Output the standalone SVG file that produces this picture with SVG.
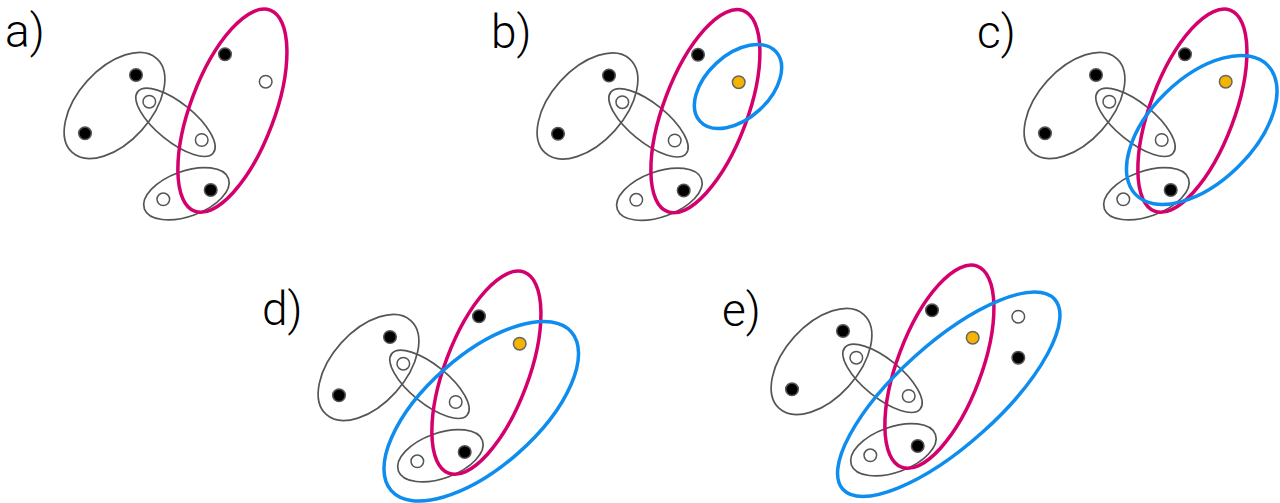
<svg xmlns="http://www.w3.org/2000/svg" width="1280" height="503" viewBox="0 0 1280 503">
<style>
.g{fill:none;stroke:#555;stroke-width:1.7}
.m{fill:none;stroke:#D4006E;stroke-width:3.5}
.bl{fill:none;stroke:#0E8DEF;stroke-width:3.5}
.k{fill:#000;stroke:#555;stroke-width:1.5}
.w{fill:#fff;stroke:#555;stroke-width:1.5}
.y{fill:#F5B400;stroke:#666;stroke-width:1.5}
.lab{font-family:Roboto,"Liberation Sans",sans-serif;font-weight:300;font-size:46px;fill:#000}
</style>
<rect width="1280" height="503" fill="#fff"/>

<!-- panel a -->
<g id="panel-a">
<text class="lab" x="5" y="47">a)</text>
<g id="a-set1"><ellipse class="g" transform="translate(114.5,105.5) rotate(-48)" rx="63.2" ry="36.7"/></g>
<g id="a-set2"><ellipse class="g" transform="translate(175.5,122.3) rotate(39.1)" rx="48.6" ry="19.2"/></g>
<g id="a-set3"><ellipse class="g" transform="translate(186.4,193.7) rotate(-19.9)" rx="44.7" ry="22.6"/></g>
<g id="a-magenta"><ellipse class="m" transform="translate(232.4,110.7) rotate(20.6)" rx="42" ry="107.4"/></g>
<g id="a-dots">
<circle class="k" cx="136" cy="75" r="6.3"/><circle class="w" cx="149.3" cy="101.7" r="6.3"/>
<circle class="k" cx="85" cy="133.3" r="6.3"/><circle class="w" cx="201.7" cy="140" r="6.3"/>
<circle class="k" cx="210.7" cy="190" r="6.3"/><circle class="w" cx="163.3" cy="199.3" r="6.3"/>
<circle class="k" cx="225" cy="54.3" r="6.3"/><circle class="w" cx="265.7" cy="81.7" r="6.3"/>
</g>
</g>

<!-- panel b -->
<text class="lab" x="491" y="48">b)</text>
<g id="panel-b" transform="translate(473,0.5)">
<g id="b-set1"><ellipse class="g" transform="translate(114.5,105.5) rotate(-48)" rx="63.2" ry="36.7"/></g>
<g id="b-set2"><ellipse class="g" transform="translate(175.5,122.3) rotate(39.1)" rx="48.6" ry="19.2"/></g>
<g id="b-set3"><ellipse class="g" transform="translate(186.4,193.7) rotate(-19.9)" rx="44.7" ry="22.6"/></g>
<g id="b-magenta"><ellipse class="m" transform="translate(232.4,110.7) rotate(20.6)" rx="42" ry="107.4"/></g>
<g id="b-blue"><ellipse class="bl" transform="translate(265,86) rotate(-42.6)" rx="51.5" ry="31.8"/></g>
<g id="b-dots">
<circle class="k" cx="136" cy="75" r="6.3"/><circle class="w" cx="149.3" cy="101.7" r="6.3"/>
<circle class="k" cx="85" cy="133.3" r="6.3"/><circle class="w" cx="201.7" cy="140" r="6.3"/>
<circle class="k" cx="210.7" cy="190" r="6.3"/><circle class="w" cx="163.3" cy="199.3" r="6.3"/>
<circle class="k" cx="225" cy="54.3" r="6.3"/><circle class="y" cx="265.7" cy="81.7" r="6.3"/>
</g>
</g>

<!-- panel c -->
<text class="lab" x="977" y="48">c)</text>
<g id="panel-c" transform="translate(960,0)">
<g id="c-set1"><ellipse class="g" transform="translate(114.5,105.5) rotate(-48)" rx="63.2" ry="36.7"/></g>
<g id="c-set2"><ellipse class="g" transform="translate(175.5,122.3) rotate(39.1)" rx="48.6" ry="19.2"/></g>
<g id="c-set3"><ellipse class="g" transform="translate(186.4,193.7) rotate(-19.9)" rx="44.7" ry="22.6"/></g>
<g id="c-magenta"><ellipse class="m" transform="translate(232.4,110.7) rotate(20.6)" rx="42" ry="107.4"/></g>
<g id="c-blue"><ellipse class="bl" transform="translate(241.75,130) rotate(-44.4)" rx="92.4" ry="51.7"/></g>
<g id="c-dots">
<circle class="k" cx="136" cy="75" r="6.3"/><circle class="w" cx="149.3" cy="101.7" r="6.3"/>
<circle class="k" cx="85" cy="133.3" r="6.3"/><circle class="w" cx="201.7" cy="140" r="6.3"/>
<circle class="k" cx="210.7" cy="190" r="6.3"/><circle class="w" cx="163.3" cy="199.3" r="6.3"/>
<circle class="k" cx="225" cy="54.3" r="6.3"/><circle class="y" cx="265.7" cy="81.7" r="6.3"/>
</g>
</g>

<!-- panel d -->
<text class="lab" x="262" y="325">d)</text>
<g id="panel-d" transform="translate(254,262)">
<g id="d-set1"><ellipse class="g" transform="translate(114.5,105.5) rotate(-48)" rx="63.2" ry="36.7"/></g>
<g id="d-set2"><ellipse class="g" transform="translate(175.5,122.3) rotate(39.1)" rx="48.6" ry="19.2"/></g>
<g id="d-set3"><ellipse class="g" transform="translate(186.4,193.7) rotate(-19.9)" rx="44.7" ry="22.6"/></g>
<g id="d-magenta"><ellipse class="m" transform="translate(232.4,110.7) rotate(20.6)" rx="42" ry="107.4"/></g>
<g id="d-blue"><ellipse class="bl" transform="translate(227.25,149.25) rotate(-41.4)" rx="120" ry="55.8"/></g>
<g id="d-dots">
<circle class="k" cx="136" cy="75" r="6.3"/><circle class="w" cx="149.3" cy="101.7" r="6.3"/>
<circle class="k" cx="85" cy="133.3" r="6.3"/><circle class="w" cx="201.7" cy="140" r="6.3"/>
<circle class="k" cx="210.7" cy="190" r="6.3"/><circle class="w" cx="163.3" cy="199.3" r="6.3"/>
<circle class="k" cx="225" cy="54.3" r="6.3"/><circle class="y" cx="265.7" cy="81.7" r="6.3"/>
</g>
</g>

<!-- panel e -->
<text class="lab" x="722" y="326">e)</text>
<g id="panel-e" transform="translate(707,256)">
<g id="e-set1"><ellipse class="g" transform="translate(114.5,105.5) rotate(-48)" rx="63.2" ry="36.7"/></g>
<g id="e-set2"><ellipse class="g" transform="translate(175.5,122.3) rotate(39.1)" rx="48.6" ry="19.2"/></g>
<g id="e-set3"><ellipse class="g" transform="translate(186.4,193.7) rotate(-19.9)" rx="44.7" ry="22.6"/></g>
<g id="e-magenta"><ellipse class="m" transform="translate(232.4,110.7) rotate(20.6)" rx="42" ry="107.4"/></g>
<g id="e-blue"><ellipse class="bl" transform="translate(241.75,138.25) rotate(-41.9)" rx="142.3" ry="50.8"/></g>
<g id="e-dots">
<circle class="k" cx="136" cy="75" r="6.3"/><circle class="w" cx="149.3" cy="101.7" r="6.3"/>
<circle class="k" cx="85" cy="133.3" r="6.3"/><circle class="w" cx="201.7" cy="140" r="6.3"/>
<circle class="k" cx="210.7" cy="190" r="6.3"/><circle class="w" cx="163.3" cy="199.3" r="6.3"/>
<circle class="k" cx="225" cy="54.3" r="6.3"/><circle class="y" cx="265.7" cy="81.7" r="6.3"/>
<circle class="w" cx="311.3" cy="60.7" r="6.3"/><circle class="k" cx="311.3" cy="101.7" r="6.3"/>
</g>
</g>
</svg>
